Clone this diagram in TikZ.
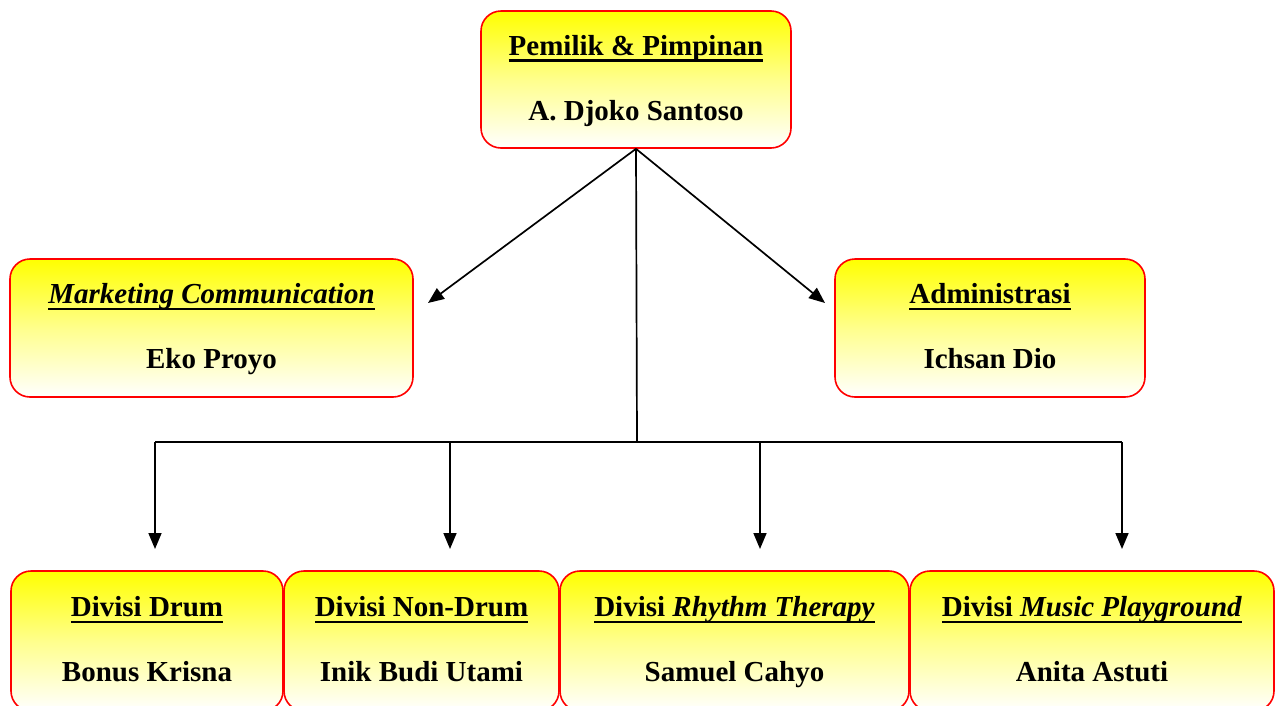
\documentclass[tikz,border=0pt]{standalone}
\usepackage{fontspec}
\setmainfont{Liberation Serif}
\usetikzlibrary{arrows.meta}
\tikzset{
  orgbox/.style={draw=red, line width=1.6pt, rounded corners=20pt, top color=yellow, bottom color=white, middle color=yellow!45,
    inner sep=0pt, align=center, font=\fontsize{29}{34}\selectfont\bfseries},
  link/.style={line width=1.7pt, black},
  arr/.style={link, -{Triangle[length=16pt,width=13pt]}}
}
\newcommand{\ulbar}[1]{\setbox0\hbox{#1}\rlap{\rule[-6.5pt]{\wd0}{2.3pt}}\box0}
\newcommand{\boxtext}[2]{\rule{0pt}{16pt}\smash{\ulbar{#1}}\\[31pt]\smash{#2}}
\begin{document}
\begin{tikzpicture}[x=1pt,y=-1pt]
\useasboundingbox (0,0) rectangle (1278,705);
\clip (0,0) rectangle (1278,705);
\node[orgbox, minimum width=310pt, minimum height=137pt] (top) at (636,79.5) {\boxtext{Pemilik \& Pimpinan}{A. Djoko Santoso}};
\node[orgbox, minimum width=403pt, minimum height=138pt] (mkt) at (211.5,328) {\boxtext{\textit{Marketing Communication}}{Eko Proyo}};
\node[orgbox, minimum width=310pt, minimum height=138pt] (adm) at (990,328) {\boxtext{Administrasi}{Ichsan Dio}};
\node[orgbox, minimum width=272pt, minimum height=140pt] (d1) at (147,641) {\boxtext{Divisi Drum}{Bonus Krisna}};
\node[orgbox, minimum width=275pt, minimum height=140pt] (d2) at (421.5,641) {\boxtext{Divisi Non-Drum}{Inik Budi Utami}};
\node[orgbox, minimum width=349pt, minimum height=140pt] (d3) at (734.5,641) {\boxtext{Divisi \textit{Rhythm Therapy}}{Samuel Cahyo}};
\node[orgbox, minimum width=364pt, minimum height=140pt] (d4) at (1092,641) {\boxtext{Divisi \textit{Music Playground}}{Anita Astuti}};
\coordinate (ml) at (428,303);
\coordinate (ar) at (825,303);
\coordinate (j) at (637,442);
\coordinate (h1) at (155,442);
\coordinate (h2) at (450,442);
\coordinate (h3) at (760,442);
\coordinate (h4) at (1122,442);
\coordinate (e1) at (155,549);
\coordinate (e2) at (450,549);
\coordinate (e3) at (760,549);
\coordinate (e4) at (1122,549);
\draw[arr] (top.south) -- (ml);
\draw[arr] (top.south) -- (ar);
\draw[link] (top.south) -- (j);
\draw[link] (h1) -- (h4);
\draw[arr] (h1) -- (e1);
\draw[arr] (h2) -- (e2);
\draw[arr] (h3) -- (e3);
\draw[arr] (h4) -- (e4);
\end{tikzpicture}
\end{document}
